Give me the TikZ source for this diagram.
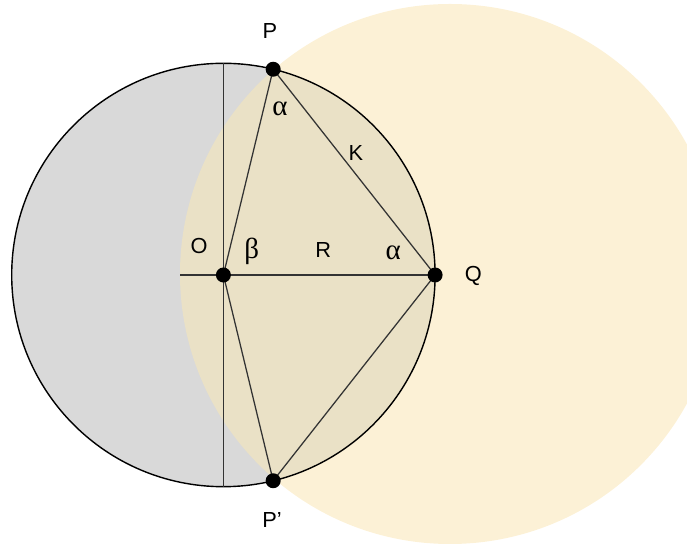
\documentclass[tikz,border=0pt]{standalone}
\usepackage{fontspec}
\setmainfont{Liberation Sans}
\newfontfamily\greekfont{Liberation Serif}
\usepackage{xcolor}
\usetikzlibrary{calc}

\definecolor{discgray}{RGB}{217,217,217}
\definecolor{discyellow}{RGB}{252,241,214}
\definecolor{discboth}{RGB}{234,225,198}

\begin{document}
\begin{tikzpicture}[
  x=0.02cm, y=0.02cm,
  dot/.style={circle, fill=black, inner sep=0pt, minimum size=0.3cm},
  lbl/.style={font=\fontsize{12.4}{14}\selectfont, inner sep=0pt},
  ang/.style={font=\greekfont\fontsize{16.5}{18}\selectfont, inner sep=0pt},
  geo/.style={draw=black!80, line width=0.72pt}
]
\useasboundingbox (0,0) rectangle (687,544);
\coordinate (O) at (223.4,269);
\coordinate (Q) at ($(O)+(211.7,0)$);
\coordinate (P) at ($(O)+(76.4:211.7)$);
\coordinate (Pp) at ($(O)+(-76.4:211.7)$);
\coordinate (C) at (450,270);
\coordinate (T) at ($(O)+(0,211.7)$);
\coordinate (B) at ($(O)+(0,-211.7)$);
\coordinate (H) at (180,269);
% discs
\begin{scope}
\clip (0,0) rectangle (687,544);
\fill[discyellow] (C) circle (270);
\end{scope}
\fill[discgray] (O) circle (211.7);
\begin{scope}
\clip (C) circle (270);
\fill[discboth] (O) circle (211.7);
\end{scope}
\draw[line width=0.8pt] (O) circle (211.7);
% lines
\draw[geo] (T) -- (B);
\draw[geo] (H) -- (Q);
\draw[geo] (P) -- (O) -- (Pp);
\draw[geo] (P) -- (Q) -- (Pp);
\node[dot] (dO) at (O) {};
\node[dot] (dQ) at (Q) {};
\node[dot] (dP) at (P) {};
\node[dot] (dPp) at (Pp) {};
% labels
\node[lbl] (lP) at (270,513) {P};
\node[lbl] (lO) at (199,297.7) {O};
\node[ang] (lb) at (251.7,292.3) {β};
\node[lbl] (lR) at (323.3,294.3) {R};
\node[ang] (la1) at (393.3,291) {α};
\node[ang] (la2) at (280,435) {α};
\node[lbl] (lK) at (356,391.3) {K};
\node[lbl] (lQ) at (473.3,268) {Q};
\node[lbl] (lPp) at (272,24) {P’};
\end{tikzpicture}
\end{document}
